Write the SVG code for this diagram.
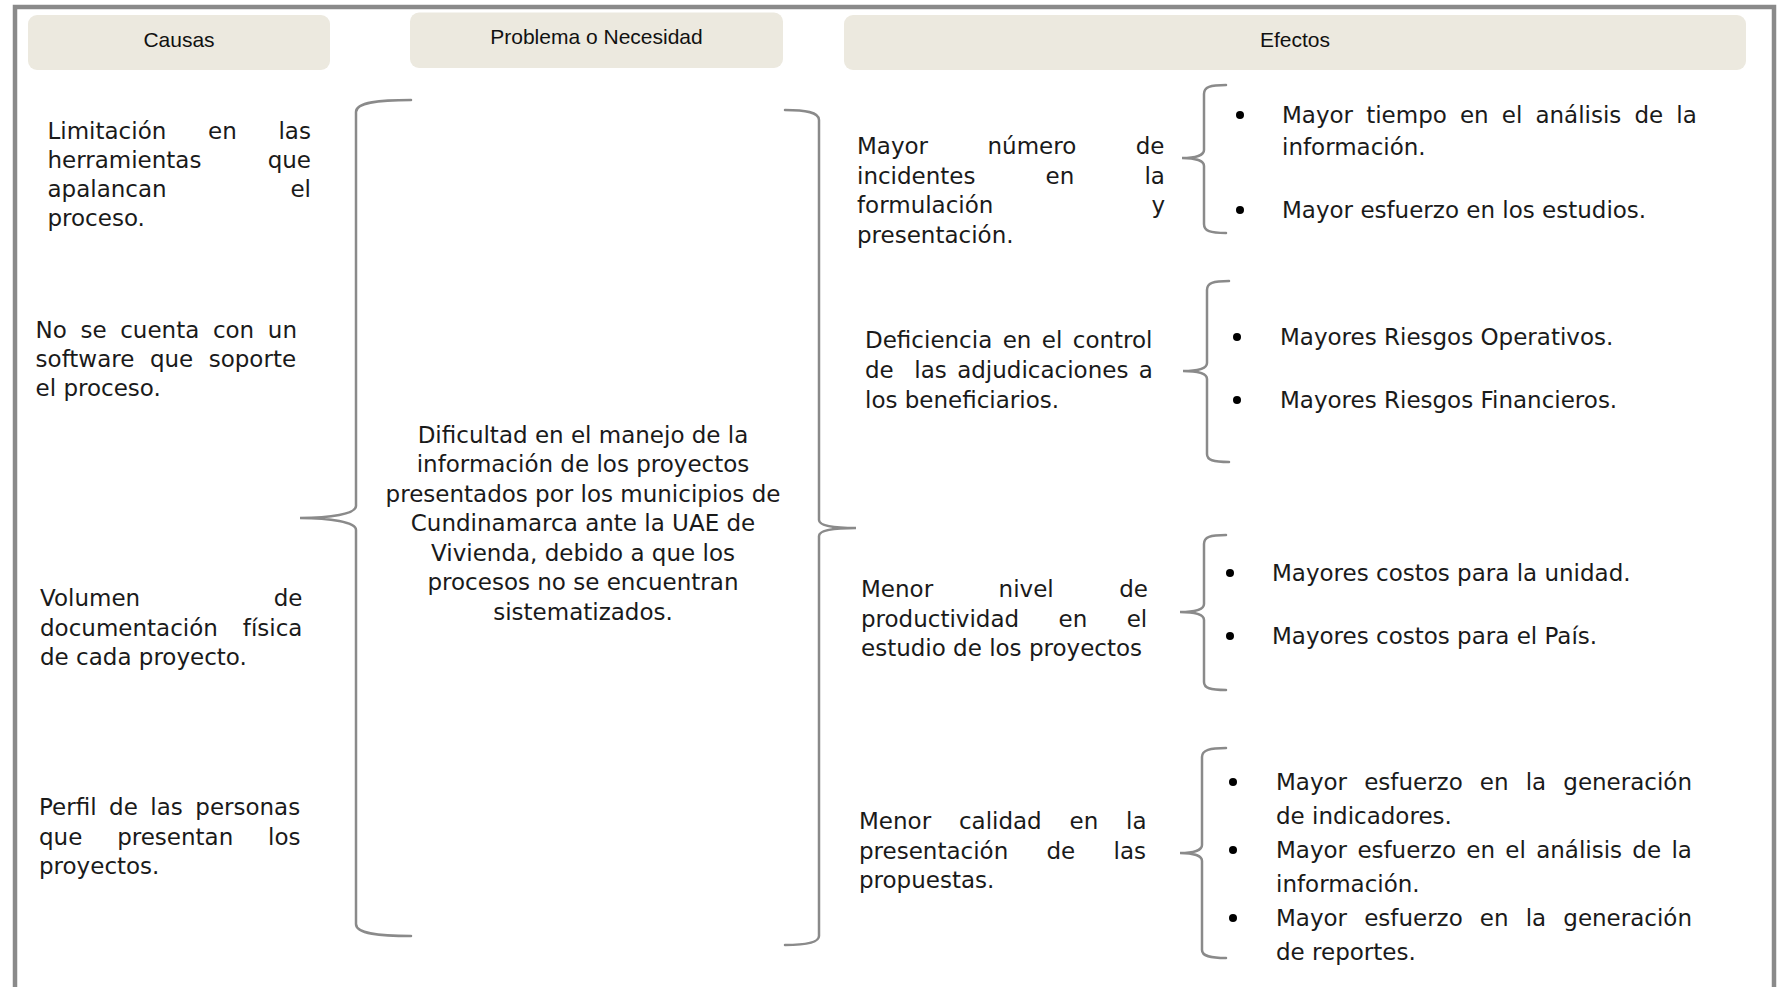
<svg xmlns="http://www.w3.org/2000/svg" width="1779" height="987" viewBox="0 0 1779 987">
  <defs>
    <style>
      .frame { fill: none; stroke: #8a8a8a; stroke-width: 4.5; }
      .head { fill: #ECE9DF; }
      .head-text { font-family: "Liberation Sans", Arial, sans-serif; font-size: 21px; fill: #111; text-anchor: middle; }
      .body { font-family: "DejaVu Sans", "Liberation Sans", sans-serif; font-size: 23px; fill: #1a1a1a; }
      .center { text-anchor: middle; }
      .brace { fill: none; stroke: #8a8a8a; stroke-width: 2.5; stroke-linecap: round; }
      .dot { fill: #000; }
    </style>
  </defs>

  <rect width="1779" height="987" fill="#ffffff"/>
  <rect class="frame" x="15" y="7" width="1759" height="1010"/>

  <!-- column headers -->
  <g id="header-causas">
    <rect class="head" x="28" y="15" width="302" height="55" rx="9"/>
    <text class="head-text" x="179" y="47">Causas</text>
  </g>
  <g id="header-problema">
    <rect class="head" x="410" y="12.5" width="373" height="55.5" rx="9"/>
    <text class="head-text" x="596.5" y="44">Problema o Necesidad</text>
  </g>
  <g id="header-efectos">
    <rect class="head" x="844" y="15" width="902" height="55" rx="9"/>
    <text class="head-text" x="1295" y="47">Efectos</text>
  </g>

  <!-- causes -->
  <g id="cause-1" class="body">
    <text x="47.5" y="138.5" style="word-spacing:34.4px">Limitación en las</text>
    <text x="47.5" y="167.8">herramientas</text>
    <text x="311" y="167.8" text-anchor="end">que</text>
    <text x="47.5" y="197.1">apalancan</text>
    <text x="311" y="197.1" text-anchor="end">el</text>
    <text x="47.5" y="226.4">proceso.</text>
  </g>
  <g id="cause-2" class="body">
    <text x="35.6" y="338" style="word-spacing:6.3px">No se cuenta con un</text>
    <text x="35.6" y="367" style="word-spacing:8.2px">software que soporte</text>
    <text x="35.6" y="396">el proceso.</text>
  </g>
  <g id="cause-3" class="body">
    <text x="40" y="606">Volumen</text>
    <text x="302.5" y="606" text-anchor="end">de</text>
    <text x="40" y="635.5" style="word-spacing:17.7px">documentación física</text>
    <text x="40" y="665">de cada proyecto.</text>
  </g>
  <g id="cause-4" class="body">
    <text x="39" y="815" style="word-spacing:5.2px">Perfil de las personas</text>
    <text x="39" y="844.5" style="word-spacing:27.5px">que presentan los</text>
    <text x="39" y="874">proyectos.</text>
  </g>

  <!-- central problem -->
  <g id="problem" class="body center">
    <text x="583" y="442.5">Dificultad en el manejo de la</text>
    <text x="583" y="472">información de los proyectos</text>
    <text x="583" y="501.5">presentados por los municipios de</text>
    <text x="583" y="531">Cundinamarca ante la UAE de</text>
    <text x="583" y="560.5">Vivienda, debido a que los</text>
    <text x="583" y="590">procesos no se encuentran</text>
    <text x="583" y="619.5">sistematizados.</text>
  </g>

  <!-- effects -->
  <g id="effect-1" class="body">
    <text x="857" y="154" style="word-spacing:52.1px">Mayor número de</text>
    <text x="857" y="183.5" style="word-spacing:62.8px">incidentes en la</text>
    <text x="857" y="213">formulación</text>
    <text x="1165" y="213" text-anchor="end">y</text>
    <text x="857" y="242.5">presentación.</text>
    <circle class="dot" cx="1240" cy="115" r="4"/>
    <text x="1282" y="122.5" style="word-spacing:5.8px">Mayor tiempo en el análisis de la</text>
    <text x="1282" y="155">información.</text>
    <circle class="dot" cx="1240" cy="210" r="4"/>
    <text x="1282" y="217.5">Mayor esfuerzo en los estudios.</text>
  </g>
  <g id="effect-2" class="body">
    <text x="865" y="348" style="word-spacing:3.1px">Deficiencia en el control</text>
    <text x="865" y="378" style="word-spacing:3px;white-space:pre">de  las adjudicaciones a</text>
    <text x="865" y="407.5">los beneficiarios.</text>
    <circle class="dot" cx="1237" cy="337" r="4"/>
    <text x="1280" y="345">Mayores Riesgos Operativos.</text>
    <circle class="dot" cx="1237" cy="400" r="4"/>
    <text x="1280" y="408">Mayores Riesgos Financieros.</text>
  </g>
  <g id="effect-3" class="body">
    <text x="861" y="597" style="word-spacing:58.2px">Menor nivel de</text>
    <text x="861" y="626.5" style="word-spacing:32.1px">productividad en el</text>
    <text x="861" y="656">estudio de los proyectos</text>
    <circle class="dot" cx="1230" cy="573" r="4"/>
    <text x="1272" y="580.5">Mayores costos para la unidad.</text>
    <circle class="dot" cx="1230" cy="636" r="4"/>
    <text x="1272" y="644">Mayores costos para el País.</text>
  </g>
  <g id="effect-4" class="body">
    <text x="859" y="829" style="word-spacing:20.5px">Menor calidad en la</text>
    <text x="859" y="858.5" style="word-spacing:31px">presentación de las</text>
    <text x="859" y="888">propuestas.</text>
    <circle class="dot" cx="1233" cy="782" r="4"/>
    <text x="1276" y="790" style="word-spacing:9.8px">Mayor esfuerzo en la generación</text>
    <text x="1276" y="824">de indicadores.</text>
    <circle class="dot" cx="1233" cy="850" r="4"/>
    <text x="1276" y="858" style="word-spacing:3px">Mayor esfuerzo en el análisis de la</text>
    <text x="1276" y="892">información.</text>
    <circle class="dot" cx="1233" cy="918" r="4"/>
    <text x="1276" y="926" style="word-spacing:9.8px">Mayor esfuerzo en la generación</text>
    <text x="1276" y="960">de reportes.</text>
  </g>

  <!-- braces linking causes, problem and effects -->
  <g id="connectors">
    <path class="brace" d="M411,100 C380,100 356,102 356,112 L356,506 C356,514 330,518 300,518 C330,518 356,522 356,530 L356,924 C356,934 380,936 411,936"/>
    <path class="brace" d="M785,110 C805,110 819,112 819,120 L819,520 C819,525 830,528 856,528 C830,528 819,531 819,536 L819,936 C819,943 805,945 785,945"/>
    <path class="brace" d="M1226,85 C1210,85 1204,87 1204,94 L1204,150 C1204,155 1196,158 1182,158 C1196,158 1204,161 1204,166 L1204,224 C1204,231 1210,233 1226,233"/>
    <path class="brace" d="M1229,281 C1213,281 1207,283 1207,290 L1207,363 C1207,368 1199,371 1183,371 C1199,371 1207,374 1207,379 L1207,454 C1207,460 1213,462 1229,462"/>
    <path class="brace" d="M1226,535 C1210,535 1204,537 1204,544 L1204,604 C1204,609 1196,612 1180,612 C1196,612 1204,615 1204,620 L1204,682 C1204,688 1210,690 1226,690"/>
    <path class="brace" d="M1226,748 C1210,748 1202,750 1202,757 L1202,845 C1202,850 1194,853 1180,853 C1194,853 1202,856 1202,861 L1202,950 C1202,956 1210,958 1226,958"/>
  </g>
</svg>
